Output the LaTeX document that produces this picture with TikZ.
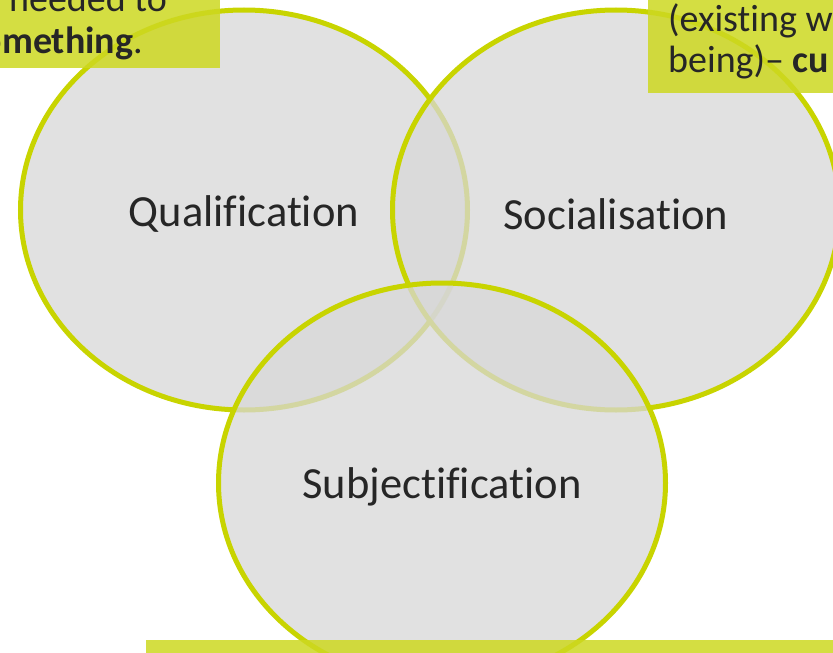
\documentclass[tikz,border=0pt]{standalone}
\usepackage{fontspec}
\setmainfont[Ligatures=NoCommon]{Carlito}
\usetikzlibrary{shapes.geometric}
\definecolor{lime}{RGB}{200,212,0}
\definecolor{limebox}{RGB}{205,216,33}
\definecolor{disc}{RGB}{215,215,215}
\definecolor{ink}{RGB}{38,38,38}
\newcommand{\lowered}[1]{\raisebox{-4pt}[\height][\depth]{#1}}
\begin{document}
\begin{tikzpicture}[x=1pt, y=-1pt]
    \tikzstyle{ring} = [ellipse, draw=lime, line width=5pt, fill=disc, fill opacity=0.75, text opacity=1, text=ink, minimum width=447pt, minimum height=400pt, inner sep=0pt, font=\fontsize{44.5}{50}\selectfont]
    \tikzstyle{band} = [fill=limebox, fill opacity=0.85]
    \tikzstyle{note} = [inner sep=0pt, text=ink, font=\fontsize{38}{42}\selectfont]

    \useasboundingbox (0, 0) rectangle (833, 653);
    \clip (0, 0) rectangle (833, 653);

    \node[ring] (qual) at (244, 210) {\lowered{Qualification}};
    \node[ring] (soc) at (616, 210) {\lowered{Socialisation}};
    \node[ring] (subj) at (442, 483) {\lowered{Subjectification}};

    \fill[band] (0, 0) rectangle (220, 68);
    \fill[band] (648, 0) rectangle (833, 93);
    \fill[band] (146, 640) rectangle (833, 653);

    \node[note, anchor=base east] (needed) at (167, 11) {needed to};
    \node[note, anchor=base east] (something) at (143, 53) {\textbf{something}.};
    \node[note, anchor=base west] (existing) at (668, 31) {(existing w};
    \node[note, anchor=base west] (being) at (668, 72) {being)– \textbf{cu}};
\end{tikzpicture}
\end{document}
